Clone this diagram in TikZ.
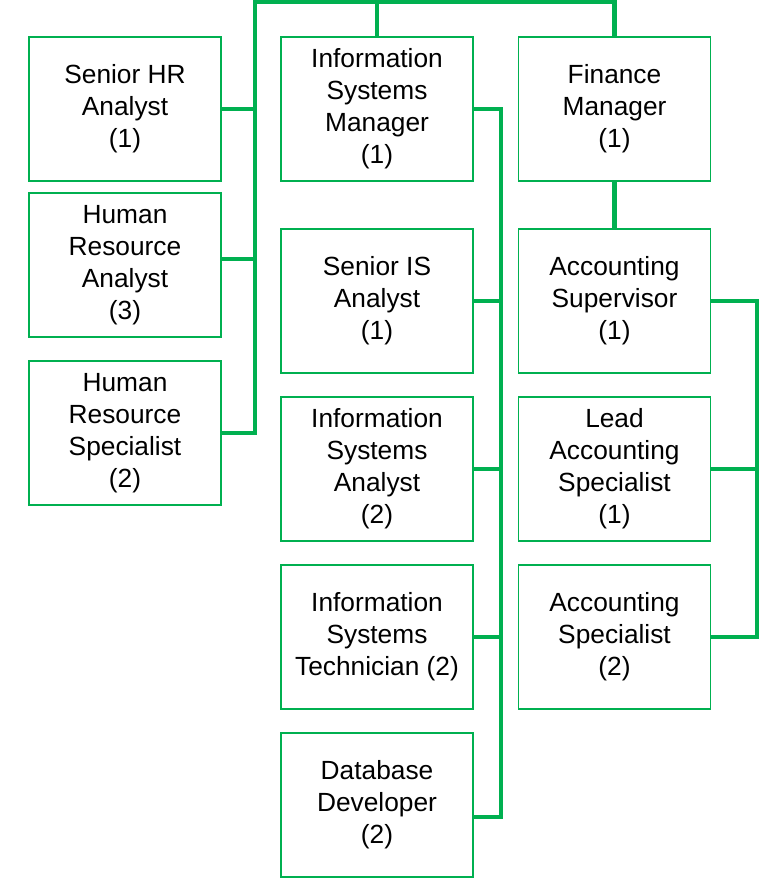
\documentclass[tikz,border=0pt]{standalone}
\usepackage{fontspec}
\setmainfont{Liberation Sans}
\definecolor{orggreen}{RGB}{0,176,80}

\begin{document}
\begin{tikzpicture}[x=1pt,y=-1pt,
  job/.style={draw=orggreen, line width=1.5pt, minimum width=192pt, minimum height=144pt,
    inner sep=0pt, align=center, font=\fontsize{26.3}{32}\selectfont},
  link/.style={draw=orggreen, line width=4.5pt}]
\useasboundingbox (0,0) rectangle (768,889);
% left column
\node[job] (shr) at (125,109) {Senior HR\\Analyst\\(1)};
\node[job] (hra) at (125,265) {Human\\Resource\\Analyst\\(3)};
\node[job] (hrs) at (125,433) {Human\\Resource\\Specialist\\(2)};
% middle column
\node[job] (ism) at (377,109) {Information\\Systems\\Manager\\(1)};
\node[job] (sis) at (377,301) {Senior IS\\Analyst\\(1)};
\node[job] (isa) at (377,469) {Information\\Systems\\Analyst\\(2)};
\node[job] (ist) at (377,637) {Information\\Systems\\Technician (2)};
\node[job] (dbd) at (377,805) {Database\\Developer\\(2)};
% right column
\node[job] (fm) at (614.5,109) {Finance\\Manager\\(1)};
\node[job] (acs) at (614.5,301) {Accounting\\Supervisor\\(1)};
\node[job] (las) at (614.5,469) {Lead\\Accounting\\Specialist\\(1)};
\node[job] (asp) at (614.5,637) {Accounting\\Specialist\\(2)};
% bus points
\coordinate (top) at (255,2);
\coordinate (isbus) at (501,0);
\coordinate (acbus) at (757,0);
\coordinate (hraj) at ([yshift=6pt]hra.east);
\coordinate (dbdj) at ([yshift=-12pt]dbd.east);
% connectors
\draw[link] (hrs.east) -| (top) -| (fm.north);
\draw[link] (ism.north) -- (ism.north |- top);
\draw[link] (shr.east) -- (shr.east -| top);
\draw[link] (hraj) -- (hraj -| top);
\draw[link] (ism.east) -- (ism.east -| isbus) |- (dbdj);
\foreach \n in {sis,isa,ist}
  \draw[link] (\n.east) -- (\n.east -| isbus);
\draw[link] (fm.south) -- (acs.north);
\draw[link] (acs.east) -- (acs.east -| acbus) |- (asp.east);
\draw[link] (las.east) -- (las.east -| acbus);
\end{tikzpicture}
\end{document}
